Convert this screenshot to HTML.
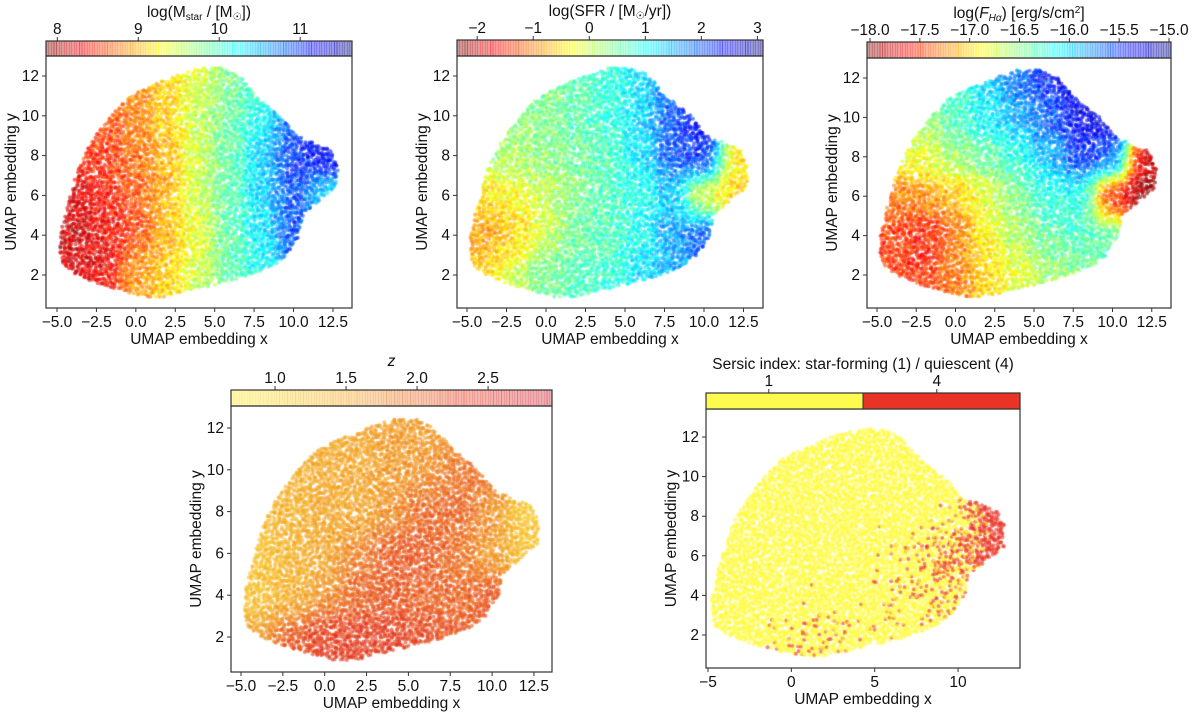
<!DOCTYPE html>
<html><head><meta charset="utf-8"><style>
html,body{margin:0;padding:0;background:#fff;}
#wrap{position:relative;width:1200px;height:720px;overflow:hidden;font-family:"Liberation Sans","DejaVu Sans",sans-serif;}
canvas,svg{position:absolute;left:0;top:0;}
</style></head><body>
<div id="wrap">
<canvas id="cv" width="1200" height="720"></canvas>
<svg id="sv" width="1200" height="720"></svg>
</div>
<script>
// Shared cloud boundary (data units): per y row, x extents
const boundY   = [0.9, 1.5, 2,   2.5,  3,    4,    5,    5.6,  6.5,  7.5,  8.3,  9,    10,   11,   12,   12.4];
const boundMin = [0.5,-2.2,-3.8,-4.6,-4.8, -4.8, -4.5, -4.3, -4.0, -3.6, -3.1, -2.6, -1.6, -0.4,  2.4,  4.0];
const boundMax = [1.8, 5.0, 7.3, 8.8, 9.6, 10.4, 10.6, 11.5, 12.8, 12.8, 12.3, 10.2,  9.2,  7.6,  6.6,  5.5];
// grid centres
const gridX = [-4,-2,0,2,4,6,8,10,12];
const gridY = [12,10,8,6,4,2];
// panel 1: log Mstar
const massVals = [
 [null,null,8.9,9.1,9.4,9.8,10.0,null,null],
 [null,8.6,8.8,9.1,9.5,9.9,10.2,10.8,null],
 [8.4,8.5,8.7,9.0,9.5,9.9,10.4,11.0,11.2],
 [8.2,8.4,8.6,9.0,9.5,9.9,10.4,10.9,10.3],
 [8.1,8.3,8.6,9.0,9.4,9.9,10.3,10.9,null],
 [8.2,8.3,8.9,9.1,9.5,9.9,10.2,null,null]];
// panel 2: log SFR
const sfrVals = [
 [null,null,0.5,0.6,0.8,1.2,1.8,null,null],
 [null,0.3,0.4,0.6,0.8,1.3,2.0,2.4,null],
 [0.1,0.2,0.3,0.5,0.7,1.2,2.0,2.3,-0.5],
 [-0.5,-0.3,0.0,0.4,0.7,0.9,1.4,-0.2,-0.6],
 [-0.9,-0.6,0.0,0.5,0.7,1.0,1.6,2.0,null],
 [-0.6,0.0,0.5,0.7,0.8,1.2,1.5,null,null]];
// panel 3: log F_Halpha
const haVals = [
 [null,null,-16.3,-16.0,-15.7,-15.4,-15.3,null,null],
 [null,-16.6,-16.3,-16.1,-15.9,-15.6,-15.3,-15.3,null],
 [-16.9,-16.8,-16.6,-16.4,-16.2,-15.9,-15.5,-15.6,-17.8],
 [-17.3,-17.2,-17.1,-16.8,-16.5,-16.2,-16.2,-17.6,-18.0],
 [-17.5,-17.6,-17.3,-16.9,-16.6,-16.4,-16.3,-16.4,null],
 [-17.5,-17.5,-17.3,-17.0,-16.8,-16.6,-16.5,null,null]];
// panel 4: redshift z
const zVals = [
 [null,null,1.5,1.5,1.6,1.6,1.6,null,null],
 [null,1.4,1.5,1.5,1.6,1.7,1.9,1.9,null],
 [1.3,1.4,1.5,1.5,1.7,2.0,2.0,1.7,1.1],
 [1.2,1.4,1.5,1.8,2.1,2.1,1.9,1.6,1.2],
 [1.2,1.4,1.7,2.0,2.1,2.0,2.0,2.1,null],
 [1.6,2.1,2.3,2.3,2.3,2.2,2.1,null,null]];
// panel 5: Sersic index
const sersicVals = [
 [null,null,1,1,1,1,1,null,null],
 [null,1,1,1,1,1,1,1,null],
 [1,1,1,1,1,1,1,1.4,4],
 [1,1,1,1,1,1.1,1.7,2.8,4],
 [1,1,1,1,1,1.3,1.5,1.6,null],
 [1,1,1.4,1.5,1.1,1.2,1,null,null]];
const tickX1 = [-5,-2.5,0,2.5,5,7.5,10,12.5];
const tickX5 = [-5,0,5,10];
const tickY = [2,4,6,8,10,12];
const massTicks=[8,9,10,11], sfrTicks=[-2,-1,0,1,2,3], haTicks=[-18,-17.5,-17,-16.5,-16,-15.5,-15], zTicks=[1.0,1.5,2.0,2.5], sersicTicks=[1,4];

function jet(t){t=1-Math.max(0,Math.min(1,t));
 const r=Math.max(0,Math.min(1,1.5-Math.abs(4*t-3))),g=Math.max(0,Math.min(1,1.5-Math.abs(4*t-2))),b=Math.max(0,Math.min(1,1.5-Math.abs(4*t-1)));
 return [r*255,g*255,b*255];}
function ylrd(t){t=Math.max(0,Math.min(1,t));
 const st=[[0,252,235,40],[0.38,243,160,30],[0.72,228,48,22],[1,200,20,40]];
 for(let i=1;i<st.length;i++){if(t<=st[i][0]){const a=st[i-1],b=st[i],f=(t-a[0])/(b[0]-a[0]);return [a[1]+(b[1]-a[1])*f,a[2]+(b[2]-a[2])*f,a[3]+(b[3]-a[3])*f];}}
 return st[3].slice(1);}
function sers(t){t=Math.max(0,Math.min(1,t));return [255-(255-233)*t,250-(250-50)*t,60-(60-35)*t];}

const panels=[
 {name:'mass',vals:massVals,cmap:jet,vmin:7.86,vmax:11.64,box:[46,56,352,308],xs:[57,15.77],ys:[275,19.9],xt:tickX1,cb:[46,41,352,56],cbt:massTicks,cbfmt:v=>String(v),title:'log(M<tspan font-size="10" dy="3">star</tspan><tspan dy="-3"> / [M</tspan><tspan font-size="10" dy="3">☉</tspan><tspan dy="-3">])</tspan>',cbAlpha:0.4},
 {name:'sfr',vals:sfrVals,cmap:jet,vmin:-2.36,vmax:3.1,box:[457,56,763,308],xs:[467,15.8],ys:[275,19.9],xt:tickX1,cb:[457,40,763,56],cbt:sfrTicks,cbfmt:v=>v<0?'−'+(-v):String(v),title:'log(SFR / [M<tspan font-size="10" dy="3">☉</tspan><tspan dy="-3">/yr])</tspan>',cbAlpha:0.4},
 {name:'halpha',vals:haVals,cmap:jet,vmin:-18.03,vmax:-14.98,box:[867,58,1171,308],xs:[877,15.7],ys:[275,19.7],xt:tickX1,cb:[867,42,1171,58],cbt:haTicks,cbfmt:v=>'−'+(-v).toFixed(1),title:'log(<tspan font-style="italic">F</tspan><tspan font-style="italic" font-size="10" dy="3">Hα</tspan><tspan dy="-3">) [erg/s/cm</tspan><tspan font-size="10" dy="-5">2</tspan><tspan dy="5">]</tspan>',cbAlpha:0.4},
 {name:'redshift',vals:zVals,cmap:ylrd,vmin:0.69,vmax:2.95,box:[231,406,552,672],xs:[241,16.74],ys:[637,20.9],xt:tickX1,cb:[231,390,552,406],cbt:zTicks,cbfmt:v=>v.toFixed(1),title:'<tspan font-style="italic">z</tspan>',cbAlpha:0.35},
 {name:'sersic',vals:sersicVals,cmap:sers,vmin:1,vmax:4,box:[706,409,1020,668],xs:[708,16.67],ys:[635,19.8],xt:tickX5,cb:[706,393,1020,409],cbt:sersicTicks,cbfmt:v=>String(v),title:'Sersic index: star-forming (1) / quiescent (4)',cbAlpha:1,cat:true}
];

function interpBound(y,arr){if(y<boundY[0]||y>boundY[boundY.length-1])return null;
 for(let i=1;i<boundY.length;i++){if(y<=boundY[i]){const f=(y-boundY[i-1])/(boundY[i]-boundY[i-1]);return arr[i-1]+(arr[i]-arr[i-1])*f;}}return null;}
function sample(vals,x,y){
 let num=0,den=0;
 for(let r=0;r<gridY.length;r++)for(let c=0;c<gridX.length;c++){const v=vals[r][c];if(v===null)continue;
  const dx=Math.abs(x-gridX[c])/2,dy=Math.abs(y-gridY[r])/2;if(dx>=1.5||dy>=1.5)continue;
  const w=Math.max(0.001,(1.5-dx))*Math.max(0.001,(1.5-dy));const w2=w*w*w;num+=v*w2;den+=w2;}
 return den?num/den:null;}
function hash(a,b){let h=Math.sin(a*127.1+b*311.7)*43758.5453;return h-Math.floor(h);}

const cv=document.getElementById('cv'),ctx=cv.getContext('2d');
const sv=document.getElementById('sv'),NS='http://www.w3.org/2000/svg';
function el(tag,attrs,parent){const e=document.createElementNS(NS,tag);for(const k in attrs)e.setAttribute(k,attrs[k]);(parent||sv).appendChild(e);return e;}

panels.forEach((p,pi)=>{
 const X=x=>p.xs[0]+(x+5)*p.xs[1], Y=y=>p.ys[0]-(y-2)*p.ys[1];
 const step=0.14;
 for(let i=0;i*step<=12.6;i++){for(let j=0;j*step<=18.5;j++){
  const y=0.85+i*step+(hash(i,j+pi*7)-0.5)*step*1.3, x=-5+j*step+(hash(j+3,i+pi*5)-0.5)*step*1.3;
  const lo=interpBound(y,boundMin),hi=interpBound(y,boundMax);if(lo===null||x<lo||x>hi)continue;
  if(hash(i*3+1,j*7+2)<0.1)continue;
  let v=sample(p.vals,x,y);if(v===null)continue;
  if(p.cat){v=(hash(i+11,j+13)<(v-1)/3)?4:1;}
  else v+= (hash(i+5,j+9)-0.5)*0.12*(p.vmax-p.vmin);
  const c=p.cmap((v-p.vmin)/(p.vmax-p.vmin));
  ctx.fillStyle=`rgba(${c[0]|0},${c[1]|0},${c[2]|0},0.6)`;
  ctx.beginPath();ctx.arc(X(x),Y(y),2,0,Math.PI*2);ctx.fill();
 }}
 const g=el('g',{});
 
 
 const [bx0,by0,bx1,by1]=p.box;
 const frame=el('rect',{x:bx0,y:by0,width:bx1-bx0,height:by1-by0,fill:'none',stroke:'#333','stroke-width':1.2},g);
 
 
 p.xt.forEach(t=>{const px=X(t);el('line',{x1:px,x2:px,y1:by1,y2:by1+4,stroke:'#333'},g);
  const tx=el('text',{x:px,y:by1+19,'text-anchor':'middle','font-size':15.5,fill:'#111'},g);
  tx.textContent=(p.cat?String(t):t.toFixed(1)).replace('-','−');
  
  });
 tickY.forEach(t=>{const py=Y(t);el('line',{x1:bx0-4,x2:bx0,y1:py,y2:py,stroke:'#333'},g);
  const ty=el('text',{x:bx0-7,y:py+5,'text-anchor':'end','font-size':15.5,fill:'#111'},g);ty.textContent=t;
  
  });
 const xl=el('text',{x:(bx0+bx1)/2,y:by1+36,'text-anchor':'middle','font-size':15.5,fill:'#111'},g);xl.textContent='UMAP embedding x';
 
 
 const yl=el('text',{x:0,y:0,transform:`translate(${bx0-30},${(by0+by1)/2}) rotate(-90)`,'text-anchor':'middle','font-size':15.5,fill:'#111'},g);yl.textContent='UMAP embedding y';
 
 
 const [cx0,cy0,cx1,cy1]=p.cb;const C=v=>cx0+(v-p.vmin)/(p.vmax-p.vmin)*(cx1-cx0);
 const cbg=el('g',{},g);
 
 
 if(p.cat){const mid=(cx0+cx1)/2;
  el('rect',{x:cx0,y:cy0,width:mid-cx0,height:cy1-cy0,fill:'#fdfb4f'},cbg);
  el('rect',{x:mid,y:cy0,width:cx1-mid,height:cy1-cy0,fill:'#e93324'},cbg);
  el('line',{x1:mid,x2:mid,y1:cy0,y2:cy1,stroke:'#333'},cbg);
  [1,4].forEach((t,k)=>{const px=k===0?cx0+(mid-cx0)*0.4:mid+(cx1-mid)*0.47;el('line',{x1:px,x2:px,y1:cy0-4,y2:cy0,stroke:'#333'},cbg);
   const tt=el('text',{x:px,y:cy0-7,'text-anchor':'middle','font-size':15.5,fill:'#111'},cbg);tt.textContent=t;
   
   });
 } else {
  const n=120;for(let k=0;k<n;k++){const c=p.cmap(k/(n-1));
   el('rect',{x:cx0+k*(cx1-cx0)/n,y:cy0,width:(cx1-cx0)/n+0.6,height:cy1-cy0,fill:`rgb(${c[0]|0},${c[1]|0},${c[2]|0})`,'fill-opacity':p.cbAlpha,'shape-rendering':'crispEdges'},cbg);}
  p.cbt.forEach(t=>{const px=C(t);el('line',{x1:px,x2:px,y1:cy0-4,y2:cy0,stroke:'#333'},cbg);
   const tt=el('text',{x:px,y:cy0-7,'text-anchor':'middle','font-size':15.5,fill:'#111'},cbg);tt.textContent=p.cbfmt(t);
   
   });
 }
 el('rect',{x:cx0,y:cy0,width:cx1-cx0,height:cy1-cy0,fill:'none',stroke:'#333','stroke-width':1.2},cbg);
 const tl=el('text',{x:(cx0+cx1)/2,y:cy0-24,'text-anchor':'middle','font-size':15.5,fill:'#111'},cbg);tl.innerHTML=p.title;
 
 
});
</script>
</body></html>
